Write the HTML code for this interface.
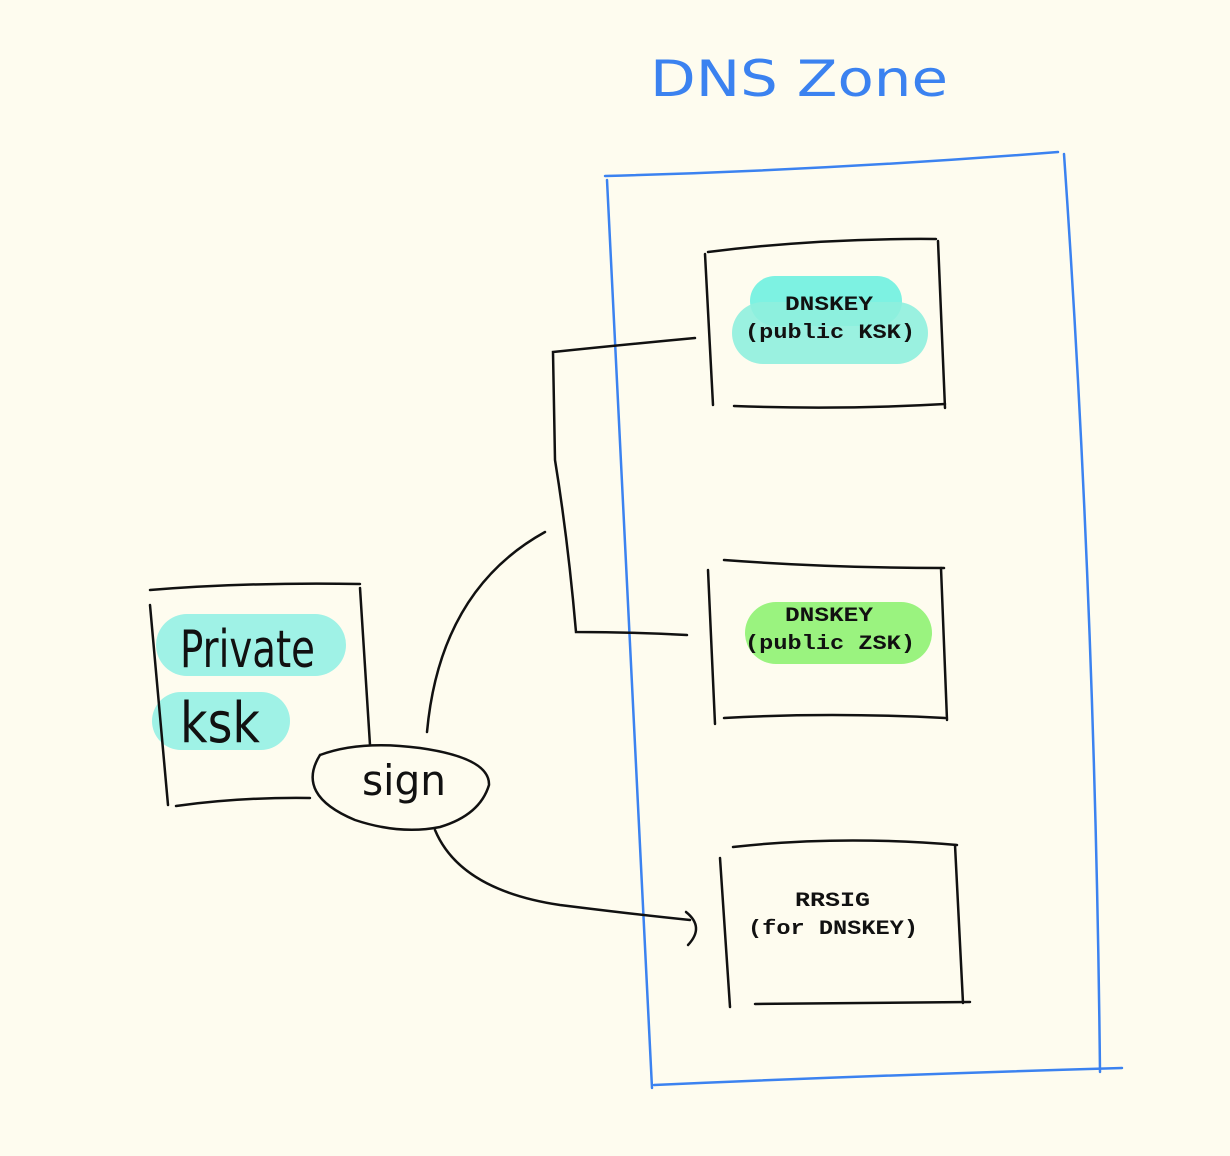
<!DOCTYPE html>
<html><head><meta charset="utf-8"><style>
html,body{margin:0;padding:0;background:#fefcef;}
svg{display:block}
.mono{font-family:"Liberation Mono",monospace;font-weight:bold;font-size:20px;fill:#111}
.hand{font-family:"DejaVu Sans","Liberation Sans",sans-serif;font-weight:normal;}
</style></head><body>
<svg width="1230" height="1156" viewBox="0 0 1230 1156" xmlns="http://www.w3.org/2000/svg">
<rect width="1230" height="1156" fill="#fefcef"/>
<text x="650" y="96" class="hand" font-size="50" fill="#3b82f0" font-weight="200" textLength="298" lengthAdjust="spacingAndGlyphs">DNS  Zone</text>
<g fill="none" stroke="#3b82f0" stroke-width="2.5" stroke-linecap="round">
<path d="M605 176 Q830 170 1058 152"/>
<path d="M607 180 Q630 630 652 1088"/>
<path d="M1064 154 Q1095 600 1100 1072"/>
<path d="M654 1085 Q880 1075 1122 1068"/>
</g>
<g>
<rect x="750" y="276" width="152" height="50" rx="25" fill="#7df2e2"/>
<rect x="732" y="302" width="196" height="62" rx="31" fill="#8ff0de" opacity="0.9"/>
<rect x="745" y="602" width="187" height="62" rx="31" fill="#9af37f"/>
<rect x="156" y="614" width="190" height="62" rx="31" fill="#9ff2e6"/>
<rect x="152" y="692" width="138" height="58" rx="29" fill="#9ff2e6"/>
</g>
<g fill="none" stroke="#111" stroke-width="2.5" stroke-linecap="round">
<path d="M708 252 Q820 238 936 239"/><path d="M705 254 L713 405"/><path d="M938 241 L945 408"/><path d="M734 406 Q840 410 945 404"/>
<path d="M724 560 Q830 568 944 568"/><path d="M708 570 L715 724"/><path d="M941 568 L947 720"/><path d="M724 718 Q830 712 945 718"/>
<path d="M733 847 Q840 835 957 845"/><path d="M720 858 L730 1007"/><path d="M955 845 L963 1003"/><path d="M755 1004 Q860 1003 970 1002"/>
<path d="M150 590 Q250 582 360 584"/><path d="M150 605 L168 805"/><path d="M360 588 L370 745"/><path d="M176 806 Q240 797 310 798"/>
<path d="M320 755 Q360 740 420 748 Q490 758 489 785 Q480 815 440 827 Q400 835 355 820 Q295 795 320 755"/>
<path d="M695 338 Q620 345 553 352 L555 460 Q568 540 576 632 Q630 632 687 635"/>
<path d="M427 732 Q440 590 545 532"/>
<path d="M435 830 Q460 890 560 905 Q640 915 690 920"/>
<path d="M686 912 Q705 927 688 945"/>
</g>
<text class="mono" x="785" y="310" textLength="88" lengthAdjust="spacingAndGlyphs">DNSKEY</text>
<text class="mono" x="745" y="338" textLength="170" lengthAdjust="spacingAndGlyphs">(public KSK)</text>
<text class="mono" x="785" y="621" textLength="88" lengthAdjust="spacingAndGlyphs">DNSKEY</text>
<text class="mono" x="745" y="649" textLength="170" lengthAdjust="spacingAndGlyphs">(public ZSK)</text>
<text class="mono" x="795" y="906" textLength="75" lengthAdjust="spacingAndGlyphs">RRSIG</text>
<text class="mono" x="748" y="934" textLength="170" lengthAdjust="spacingAndGlyphs">(for DNSKEY)</text>
<text class="hand" x="180" y="667" font-size="52" fill="#111" textLength="135" lengthAdjust="spacingAndGlyphs">Private</text>
<text class="hand" x="180" y="742" font-size="56" fill="#111" textLength="80" lengthAdjust="spacingAndGlyphs">ksk</text>
<text class="hand" x="362" y="795" font-size="42" fill="#111" textLength="84" lengthAdjust="spacingAndGlyphs">sign</text>
</svg>
</body></html>
